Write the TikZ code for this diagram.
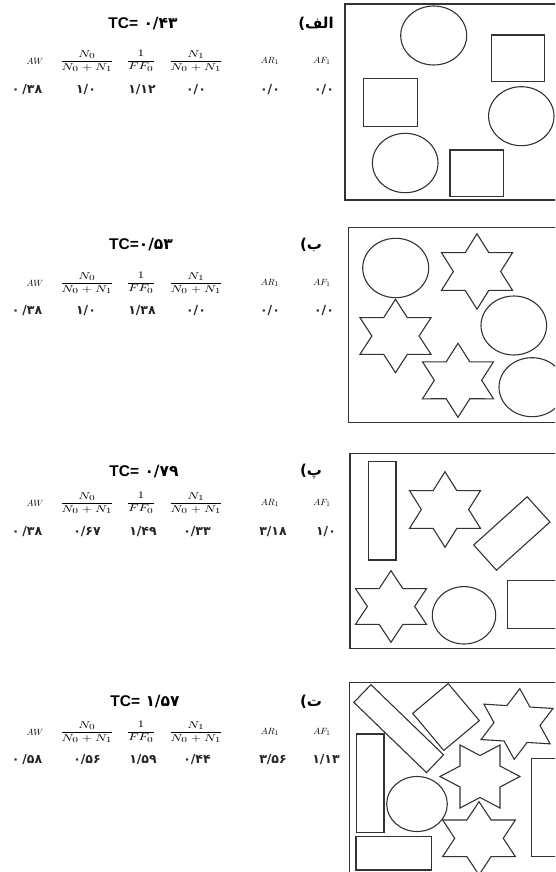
\documentclass[tikz,border=0pt]{standalone}
\usepackage{fontspec}
\usepackage{amsmath}
\TeXXeTstate=1
\newfontfamily\arabicfont[Script=Arabic]{DejaVu Sans}
\newfontfamily\digfont{DejaVu Sans}
\newfontfamily\latfont{Liberation Sans}
\newcommand\fr[2]{\scalebox{1.45}[1.1]{$\dfrac{#1}{#2}$}}
\newcommand\tcval[1]{{\latfont\bfseries TC=}{\digfont\bfseries #1}}
\tikzset{
  frame/.style={draw=black!80, line width=1.4pt},
  shp/.style={draw=black!80, line width=1.1pt},
  ttl/.style={font=\fontsize{15.5}{16}\selectfont},
  lbl/.style={font=\arabicfont\bfseries\fontsize{15}{15}\selectfont},
  hdr/.style={font=\fontsize{9.5}{10}\selectfont, text=black},
  val/.style={font=\digfont\bfseries\fontsize{12.5}{13}\selectfont, text=black!85},
  hexstar/.pic={\draw[shp] (90:1) -- (60:0.577) -- (30:1) -- (0:0.577) -- (-30:1) -- (-60:0.577) -- (-90:1) -- (-120:0.577) -- (-150:1) -- (180:0.577) -- (150:1) -- (120:0.577) -- cycle;}
}
\begin{document}
\begin{tikzpicture}[x=1pt,y=-1pt]
\path[use as bounding box] (0,0) rectangle (555,872);
\clip (0,0) rectangle (555,872);
% ================= panel 1 =================
\node[ttl] (t1) at (143,24) {\tcval{ ۰/۴۳}};
\node[lbl] (l1) at (316,24) {)\beginR الف\endR};
\node[hdr] (h1a) at (35,61) {$AW$};
\node[hdr] (h1b) at (87,61) {\fr{N_0}{N_0+N_1}};
\node[hdr] (h1c) at (141,61) {\fr{1}{FF_0}};
\node[hdr] (h1d) at (196,61) {\fr{N_1}{N_0+N_1}};
\node[hdr] (h1e) at (270,61) {$AR_1$};
\node[hdr] (h1f) at (322,61) {$AF_1$};
\node[val] (v1a) at (27,90) {۰\hspace{3pt}/۳۸};
\node[val] (v1b) at (86,90) {۱/۰};
\node[val] (v1c) at (142,90) {۱/۱۲};
\node[val] (v1d) at (196,90) {۰/۰};
\node[val] (v1e) at (270,90) {۰/۰};
\node[val] (v1f) at (324,90) {۰/۰};
\draw[frame] (345,4) rectangle (560,200);
\draw[shp] (433.7,35.5) ellipse [x radius=33, y radius=29.5];
\draw[shp] (491.7,35) rectangle (544.3,81.7);
\draw[shp] (363.3,78.3) rectangle (417.3,126.7);
\draw[shp] (521.3,116.2) ellipse [x radius=32.7, y radius=29.5];
\draw[shp] (405.2,163) ellipse [x radius=32.8, y radius=29.7];
\draw[shp] (450,150) rectangle (503.3,196.7);
% ================= panel 2 =================
\node[ttl] (t2) at (141,245) {\tcval{۰/۵۳}};
\node[lbl] (l2) at (311,245) {)\beginR ب\endR};
\node[hdr] (h2a) at (35,283) {$AW$};
\node[hdr] (h2b) at (87,283) {\fr{N_0}{N_0+N_1}};
\node[hdr] (h2c) at (141,283) {\fr{1}{FF_0}};
\node[hdr] (h2d) at (196,283) {\fr{N_1}{N_0+N_1}};
\node[hdr] (h2e) at (270,283) {$AR_1$};
\node[hdr] (h2f) at (322,283) {$AF_1$};
\node[val] (v2a) at (27,311) {۰\hspace{3pt}/۳۸};
\node[val] (v2b) at (86,311) {۱/۰};
\node[val] (v2c) at (142,311) {۱/۳۸};
\node[val] (v2d) at (196,311) {۰/۰};
\node[val] (v2e) at (270,311) {۰/۰};
\node[val] (v2f) at (324,311) {۰/۰};
\draw[frame] (348.3,227.3) rectangle (560,422.7);
\draw[shp] (395.7,268) ellipse [x radius=33, y radius=29.7];
\pic[xscale=41, yscale=37.7] at (477,271.5) {hexstar};
\draw[shp] (513.8,325.5) ellipse [x radius=32.8, y radius=29.5];
\pic[xscale=41, yscale=36.7] at (395.5,336) {hexstar};
\pic[xscale=41, yscale=37] at (458,380.3) {hexstar};
\draw[shp] (532,387.2) ellipse [x radius=33, y radius=29.5];
% ================= panel 3 =================
\node[ttl] (t3) at (144,472) {\tcval{ ۰/۷۹}};
\node[lbl] (l3) at (311,472) {)\beginR پ\endR};
\node[hdr] (h3a) at (35,503) {$AW$};
\node[hdr] (h3b) at (87,503) {\fr{N_0}{N_0+N_1}};
\node[hdr] (h3c) at (141,503) {\fr{1}{FF_0}};
\node[hdr] (h3d) at (196,503) {\fr{N_1}{N_0+N_1}};
\node[hdr] (h3e) at (270,503) {$AR_1$};
\node[hdr] (h3f) at (322,503) {$AF_1$};
\node[val] (v3a) at (27,532) {۰\hspace{3pt}/۳۸};
\node[val] (v3b) at (87,532) {۰/۶۷};
\node[val] (v3c) at (143,532) {۱/۴۹};
\node[val] (v3d) at (197,532) {۰/۳۳};
\node[val] (v3e) at (273,532) {۳/۱۸};
\node[val] (v3f) at (326,532) {۱/۰};
\draw[frame] (350,453.3) rectangle (560,648.3);
\draw[shp] (368.3,461.7) rectangle (396,560);
\pic[xscale=41, yscale=37.8] at (445,509.5) {hexstar};
\draw[shp, shift={(511.8,533.5)}, rotate=42] (-36,-17) rectangle (36,17);
\pic[xscale=41, yscale=35.8] at (391,606.5) {hexstar};
\draw[shp] (464,615.3) ellipse [x radius=31.7, y radius=28.7];
\draw[shp] (507.3,580.7) rectangle (570,628.3);
% ================= panel 4 =================
\node[ttl] (t4) at (145,702) {\tcval{ ۱/۵۷}};
\node[lbl] (l4) at (311,702) {)\beginR ت\endR};
\node[hdr] (h4a) at (35,732) {$AW$};
\node[hdr] (h4b) at (87,732) {\fr{N_0}{N_0+N_1}};
\node[hdr] (h4c) at (141,732) {\fr{1}{FF_0}};
\node[hdr] (h4d) at (196,732) {\fr{N_1}{N_0+N_1}};
\node[hdr] (h4e) at (270,732) {$AR_1$};
\node[hdr] (h4f) at (322,732) {$AF_1$};
\node[val] (v4a) at (27,760) {۰\hspace{3pt}/۵۸};
\node[val] (v4b) at (87,760) {۰/۵۶};
\node[val] (v4c) at (143,760) {۱/۵۹};
\node[val] (v4d) at (197,760) {۰/۴۴};
\node[val] (v4e) at (273,760) {۳/۵۶};
\node[val] (v4f) at (326,760) {۱/۱۳};
\draw[frame] (349.3,682.7) rectangle (560,885);
\draw[shp, shift={(398.7,728.6)}, rotate=-44] (-50.5,-12.3) rectangle (50.5,12.3);
\draw[shp, shift={(446,717)}, rotate=40] (-23.2,-24.2) rectangle (23.2,24.2);
\pic[xscale=40, yscale=35.5, rotate=-4] at (517,724) {hexstar};
\draw[shp] (356.7,734) rectangle (384,832.7);
\pic[xscale=40, yscale=36.4, rotate=90] at (480,776.5) {hexstar};
\draw[shp] (417,804) ellipse [x radius=30.3, y radius=27.5];
\pic[xscale=42, yscale=36.6] at (479,838.3) {hexstar};
\draw[shp] (356,836.7) rectangle (431.7,870);
\draw[shp] (531.7,758.3) rectangle (570,856.7);
\end{tikzpicture}
\end{document}
